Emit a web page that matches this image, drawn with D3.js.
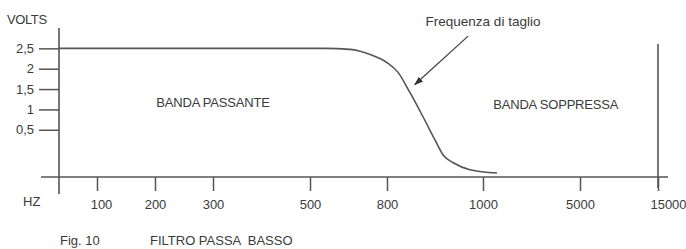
<!DOCTYPE html>
<html><head><meta charset="utf-8">
<script src="https://cdn.jsdelivr.net/npm/d3@7"></script>
<style>
body{margin:0;background:#fff;}
svg text{font-family:"Liberation Sans",Arial,sans-serif;fill:#3a3a3a;}
</style></head>
<body><svg id="c" width="686" height="249"></svg>
<script>
// ---- data ----
const xTickValues = [100, 200, 300, 500, 800, 1000, 5000, 15000];
const xTickLabels = ["100", "200", "300", "500", "800", "1000", "5000", "15000"];
const yTickValues = [0.5, 1, 1.5, 2, 2.5];
const yTickLabels = ["0,5", "1", "1,5", "2", "2,5"];
const curveFreq  = [0, 200, 450, 560, 656, 734, 800, 823, 848, 875, 900, 917, 938, 973, 1577];
const curveVolts = [2.5, 2.5, 2.5, 2.5, 2.475, 2.35, 2.15, 1.91, 1.41, 0.82, 0.25, -0.12, -0.31, -0.48, -0.56];
const bandLabels = ["BANDA PASSANTE", "BANDA SOPPRESSA"];
const bandFreq = [300, 4000];
const bandVolts = [1.17, 1.12];
const annotationText = "Frequenza di taglio";
const annotationFreq = [1000, 969, 858];   // text, arrow tail, arrow head
const annotationVolts = [3.17, 2.80, 1.61];
const yTitle = "VOLTS", xTitle = "HZ";
const caption = ["Fig. 10", "FILTRO PASSA  BASSO"];

// ---- layout ----
const svg = d3.select("#c");
const stroke = "#555";
// hand-drawn, non-uniform frequency axis: piecewise linear scale
const x = d3.scaleLinear()
  .domain([0].concat(xTickValues))
  .range([59, 97, 155, 213, 310, 387, 483, 580, 658]);
const y = d3.scaleLinear().domain([-0.66, 3.0]).range([177, 28]);

const defs = svg.append("defs");
defs.append("marker").attr("id","arr").attr("viewBox","0 0 10 10")
  .attr("refX",9).attr("refY",5).attr("markerWidth",7).attr("markerHeight",7)
  .attr("orient","auto-start-reverse")
  .append("path").attr("d","M0,1.5L10,5L0,8.5Z").attr("fill","#333");

// x axis line
svg.append("line").attr("x1",41).attr("x2",668).attr("y1",y(-0.66)).attr("y2",y(-0.66))
  .attr("stroke",stroke).attr("stroke-width",1.6);
// y axis line
svg.append("line").attr("x1",x(0)).attr("x2",x(0)).attr("y1",y(3.0)).attr("y2",194)
  .attr("stroke",stroke).attr("stroke-width",1.6);
// right vertical boundary at 15000
svg.append("line").attr("x1",x(15000)).attr("x2",x(15000)).attr("y1",44).attr("y2",188)
  .attr("stroke",stroke).attr("stroke-width",1.6);

// x ticks
const xAxis = d3.axisBottom(x).tickValues(xTickValues).tickSize(14).tickPadding(9)
  .tickFormat((d,i)=>xTickLabels[i]);
const gx = svg.append("g").attr("transform",`translate(0,${y(-0.66)})`).call(xAxis);
gx.select(".domain").remove();
gx.selectAll(".tick line").attr("stroke",stroke).attr("stroke-width",1.5);
gx.selectAll(".tick text").attr("font-size",13).attr("fill","#3a3a3a")
  .attr("dx",(d,i)=> i===0?4:(i===xTickValues.length-1?10:0));

// y ticks
const yAxis = d3.axisLeft(y).tickValues(yTickValues).tickSize(0).tickPadding(5)
  .tickFormat((d,i)=>yTickLabels[i]);
const gy = svg.append("g").attr("transform",`translate(${x(0)-20},0)`).call(yAxis);
gy.select(".domain").remove();
gy.selectAll(".tick").append("line").attr("x1",0).attr("x2",20)
  .attr("stroke",stroke).attr("stroke-width",1.5);
gy.selectAll(".tick text").attr("font-size",13).attr("fill","#3a3a3a");

// curve
const pts = curveFreq.map((f,i)=>[f, curveVolts[i]]);
svg.append("path").datum(pts)
  .attr("d", d3.line().x(d=>x(d[0])).y(d=>y(d[1])).curve(d3.curveMonotoneX))
  .attr("fill","none").attr("stroke",stroke).attr("stroke-width",1.6);

// band labels
svg.selectAll(".band").data(bandLabels).enter().append("text")
  .attr("x",(d,i)=>x(bandFreq[i])).attr("y",(d,i)=>y(bandVolts[i]))
  .attr("dy","0.35em").attr("text-anchor","middle").attr("font-size",13)
  .attr("letter-spacing",-0.2).text(d=>d);

// annotation
svg.append("text").attr("x",x(annotationFreq[0])).attr("y",y(annotationVolts[0]))
  .attr("dy","0.35em").attr("text-anchor","middle").attr("font-size",13.5).text(annotationText);
svg.append("line")
  .attr("x1",x(annotationFreq[1])).attr("y1",y(annotationVolts[1]))
  .attr("x2",x(annotationFreq[2])).attr("y2",y(annotationVolts[2]))
  .attr("stroke","#444").attr("stroke-width",1.3).attr("marker-end","url(#arr)");

// titles
svg.append("text").attr("x",7).attr("y",y(3.0)-9).attr("dy","0.35em").attr("font-size",13)
  .attr("letter-spacing",-0.4).text(yTitle);
svg.append("text").attr("x",23).attr("y",201).attr("dy","0.35em").attr("font-size",13).text(xTitle);
svg.append("text").attr("x",60).attr("y",240).attr("dy","0.35em").attr("font-size",13).text(caption[0]);
svg.append("text").attr("x",150).attr("y",240).attr("dy","0.35em").attr("font-size",13)
  .attr("xml:space","preserve").style("white-space","pre").text(caption[1]);
</script></body></html>
